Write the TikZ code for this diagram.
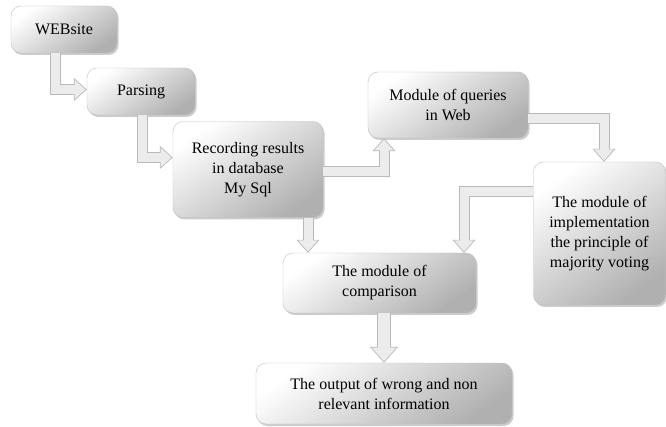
\documentclass[tikz,border=0pt]{standalone}
\usepackage{fontspec}
\setmainfont{Liberation Serif}
\usepackage{tikz}
\usetikzlibrary{arrows.meta, shadows}
\tikzstyle{block} = [rectangle, draw=gray!50, rounded corners=10pt, align=center, inner sep=2pt, top color=white, bottom color=gray!62, shading angle=35, drop shadow={opacity=0.4, shadow xshift=1.5pt, shadow yshift=-2pt}, font=\fontsize{16}{20}\selectfont]
\tikzstyle{flow} = [draw=gray!15, line width=9pt, shorten >=12pt, preaction={draw=gray!55, line width=11pt, shorten >=0pt, -{Triangle[width=23pt, length=13pt, line width=0.7pt, fill=gray!15]}}]
\tikzstyle{flowwide} = [draw=gray!15, line width=12pt, shorten >=15pt, preaction={draw=gray!55, line width=14pt, shorten >=0pt, -{Triangle[width=28pt, length=16pt, line width=0.7pt, fill=gray!15]}}]

\begin{document}
\begin{tikzpicture}[x=1pt, y=-1pt]
\useasboundingbox (0,0) rectangle (666,427);

\node [block, minimum width=106pt, minimum height=47pt] (web) at (64,29.5) {WEBsite};
\node [block, minimum width=108pt, minimum height=47pt] (pars) at (141,91.5) {Parsing};
\node [block, minimum width=150pt, minimum height=96pt] (rec) at (248,169.5) {Recording results\\in database\\My Sql};
\node [block, minimum width=160pt, minimum height=66pt] (qry) at (448,105) {Module of queries\\in Web};
\node [block, minimum width=132pt, minimum height=143pt] (vote) at (599.5,233.5) {The module of\\implementation\\the principle of\\majority voting};
\node [block, minimum width=193pt, minimum height=60pt] (cmp) at (379.5,283) {The module of\\comparison};
\node [block, minimum width=256pt, minimum height=61pt] (out) at (384,393.5) {The output of wrong and non\\relevant information};

\path [flow] ([xshift=-9pt]web.south) |- ([yshift=2pt]pars.west);
\path [flow] ([xshift=1pt]pars.south) |- ([yshift=12pt]rec.west);
\path [flow] ([yshift=-2.5pt]rec.east) -| ([xshift=-64pt]qry.south);
\path [flow] ([yshift=-14pt]qry.east) -| ([xshift=4.5pt]vote.north);
\path [flow] ([yshift=41.5pt]vote.west) -| ([xshift=84.5pt]cmp.north);
\path [flow] ([xshift=60pt]rec.south) -- ([xshift=-71.5pt]cmp.north);
\path [flowwide] ([xshift=4.5pt]cmp.south) -- (out.north);

\end{tikzpicture}
\end{document}
